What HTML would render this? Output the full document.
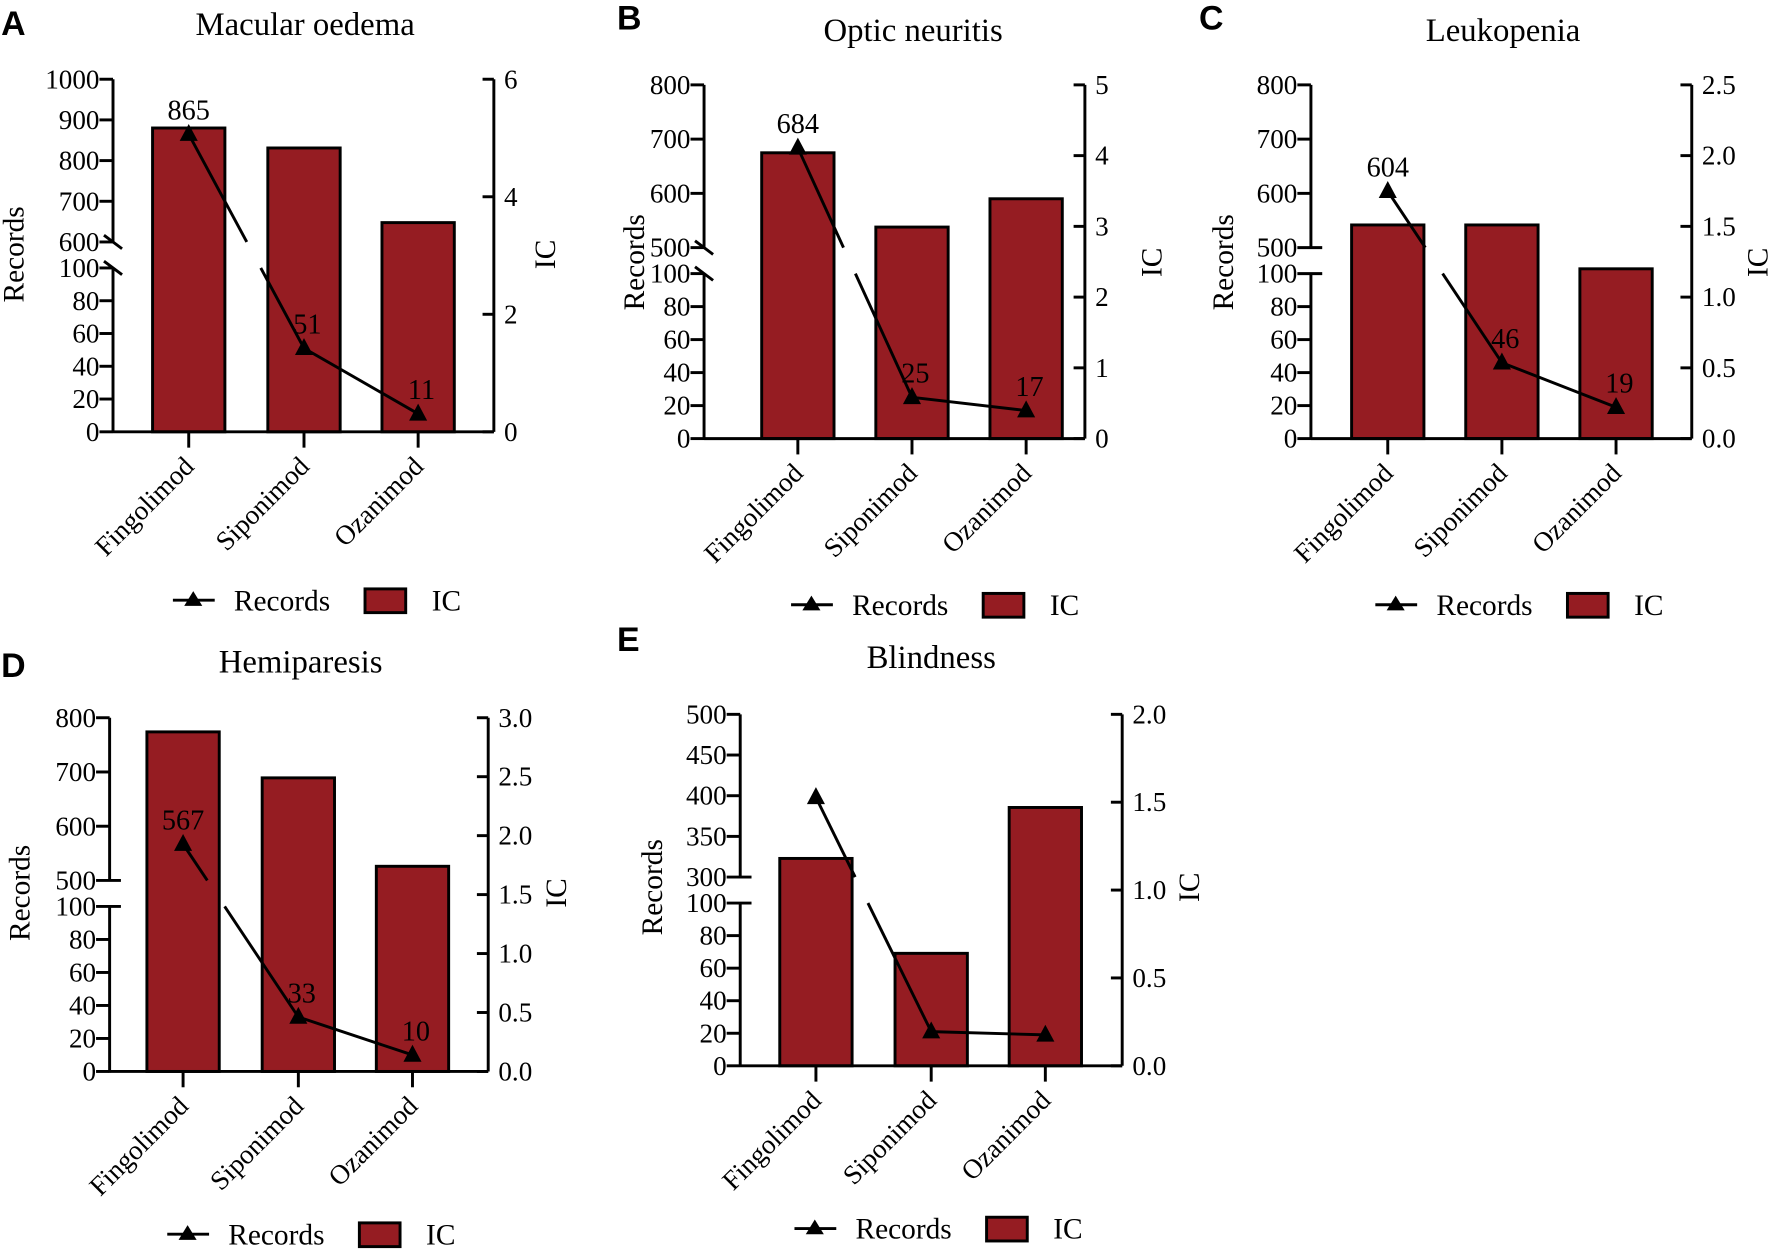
<!DOCTYPE html>
<html><head><meta charset="utf-8"><style>
html,body{margin:0;padding:0;background:#fff;}
svg{display:block;}
text{font-family:"Liberation Serif",serif;fill:#000;}
.lt{font-family:"Liberation Sans",sans-serif;font-weight:bold;}
</style></head><body>
<svg id="fig" width="1772" height="1249" viewBox="0 0 1568 1105" xmlns="http://www.w3.org/2000/svg"></svg>
<script>
const drugs = ["Fingolimod","Siponimod","Ozanimod"];
const titles = ["Macular oedema","Optic neuritis","Leukopenia","Hemiparesis","Blindness"];
const letters = ["A","B","C","D","E"];
const recA = [865,51,11];   const icA = [5.17,4.83,3.56];
const recB = [684,25,17];   const icB = [4.04,2.99,3.39];
const recC = [604,46,19];   const icC = [1.51,1.51,1.20];
const recD = [567,33,10];   const icD = [2.88,2.49,1.74];
const recE = [398,21,19];   const icE = [1.18,0.64,1.47];
const upTicksA = [600,700,800,900,1000];
const upTicksB = [500,600,700,800];
const upTicksC = [500,600,700,800];
const upTicksD = [500,600,700,800];
const upTicksE = [300,350,400,450,500];
const lowTicks = [0,20,40,60,80,100];
const icTicksA = [0,2,4,6];
const icTicksB = [0,1,2,3,4,5];
const icTicksC = [0,0.5,1,1.5,2,2.5];
const icTicksD = [0,0.5,1,1.5,2,2.5,3];
const icTicksE = [0,0.5,1,1.5,2];
const showLabels = [true,true,true,true,false];

const panels = [
 {rec:recA,ic:icA,up:upTicksA,ict:icTicksA,dec:0,xL:100,xR:437,y0:382,lowTop:237,upBot:214,upTop:70,cx:[167,269,370],brk:'diag',
  lt:[1,31],tt:[270,31],ry:[13,225],icy:[483,225],leg:[153,531]},
 {rec:recB,ic:icB,up:upTicksB,ict:icTicksB,dec:0,xL:623,xR:960,y0:388,lowTop:242,upBot:219,upTop:75,cx:[706,807,908],brk:'diag',
  lt:[546,26],tt:[808,36],ry:[562,232],icy:[1020,232],leg:[700,535]},
 {rec:recC,ic:icC,up:upTicksC,ict:icTicksC,dec:1,xL:1160,xR:1497,y0:388,lowTop:242,upBot:219,upTop:75,cx:[1228,1329,1430],brk:'dash',
  lt:[1061,26],tt:[1330,36],ry:[1083,232],icy:[1556,232],leg:[1217,535]},
 {rec:recD,ic:icD,up:upTicksD,ict:icTicksD,dec:1,xL:97,xR:432,y0:948,lowTop:802,upBot:779,upTop:635,cx:[162,264,365],brk:'dash',
  lt:[1,599],tt:[266,595],ry:[18,790],icy:[493,790],leg:[148,1092]},
 {rec:recE,ic:icE,up:upTicksE,ict:icTicksE,dec:1,xL:655,xR:993,y0:943,lowTop:799,upBot:776,upTop:632,cx:[722,824,925],brk:'dash',
  lt:[546,576],tt:[824,591],ry:[578,785],icy:[1053,785],leg:[703,1087]}
];

const NS="http://www.w3.org/2000/svg";
const svg=document.getElementById('fig');
function mk(tag,attrs,parent,txt){const e=document.createElementNS(NS,tag);for(const k in attrs)e.setAttribute(k,attrs[k]);if(txt!==undefined)e.textContent=txt;(parent||svg).appendChild(e);return e;}
const BAR="#951c22";

panels.forEach((p,i)=>{
  const g=mk('g',{});
  
  
  const upLo=p.up[0], upHi=p.up[p.up.length-1];
  const yRec=v=> v>=upLo ? p.upBot-(v-upLo)/(upHi-upLo)*(p.upBot-p.upTop) : p.y0-v/100*(p.y0-p.lowTop);
  const icMax=p.ict[p.ict.length-1];
  const yIC=v=> p.y0-v/icMax*(p.y0-p.upTop);
  const t1=mk('text',{x:p.lt[0],y:p.lt[1],'font-size':30,class:'lt'},g,letters[i]);
   
  const t2=mk('text',{x:p.tt[0],y:p.tt[1],'font-size':29,'text-anchor':'middle'},g,titles[i]);
   
  p.ic.forEach((v,j)=>{
    const y=yIC(v);
    const r=mk('rect',{x:p.cx[j]-32,y:y,width:64,height:p.y0-y,fill:BAR,stroke:'#000','stroke-width':2.6},g);
     
  });
  const la=mk('g',{stroke:'#000','stroke-width':2.6,fill:'none'},g);
   
  mk('line',{x1:p.xL,y1:p.upTop,x2:p.xL,y2:p.upBot},la);
  mk('line',{x1:p.xL,y1:p.lowTop,x2:p.xL,y2:p.y0+1},la);
  if(p.brk==='diag'){
    mk('line',{x1:p.xL-8,y1:p.upBot-6,x2:p.xL+8,y2:p.upBot+6},la);
    mk('line',{x1:p.xL-8,y1:p.lowTop-6,x2:p.xL+8,y2:p.lowTop+6},la);
  } else {
    mk('line',{x1:p.xL-12,y1:p.upBot,x2:p.xL+10,y2:p.upBot},la);
    mk('line',{x1:p.xL-12,y1:p.lowTop,x2:p.xL+10,y2:p.lowTop},la);
  }
  p.up.forEach(v=>{const y=yRec(v);
    if(p.brk==='diag'||v!==upLo) mk('line',{x1:p.xL-12,y1:y,x2:p.xL,y2:y},la);
    const t=mk('text',{x:p.xL-12,y:y+8,'font-size':24,'text-anchor':'end'},g,String(v));
     });
  lowTicks.forEach(v=>{const y=p.y0-v/100*(p.y0-p.lowTop);
    if(!(v===100&&p.brk==='dash')) mk('line',{x1:p.xL-12,y1:y,x2:p.xL,y2:y},la);
    const t=mk('text',{x:p.xL-12,y:y+8,'font-size':24,'text-anchor':'end'},g,String(v));
     });
  mk('line',{x1:p.xL,y1:p.y0,x2:p.xR,y2:p.y0},la);
  p.cx.forEach((x,j)=>{
    mk('line',{x1:x,y1:p.y0,x2:x,y2:p.y0+14},la);
    const t=mk('text',{x:x+6,y:p.y0+32,'font-size':24,'text-anchor':'end',transform:`rotate(-45 ${x+6} ${p.y0+32})`},g,drugs[j]);
     
  });
  const ra=mk('g',{stroke:'#000','stroke-width':2.6},g);
   
  mk('line',{x1:p.xR,y1:p.upTop,x2:p.xR,y2:p.y0},ra);
  p.ict.forEach(v=>{const y=yIC(v);
    mk('line',{x1:p.xR-10,y1:y,x2:p.xR,y2:y},ra);
    const t=mk('text',{x:p.xR+9,y:y+8,'font-size':24},g,v.toFixed(p.dec));
     });
  const at=mk('text',{x:p.ry[0],y:p.ry[1],'font-size':26,'text-anchor':'middle',transform:`rotate(-90 ${p.ry[0]} ${p.ry[1]})`,'dominant-baseline':'central'},g,'Records');
   
  const it=mk('text',{x:p.icy[0],y:p.icy[1],'font-size':26,'text-anchor':'middle',transform:`rotate(-90 ${p.icy[0]} ${p.icy[1]})`,'dominant-baseline':'central'},g,'IC');
   
  const pts=p.rec.map((v,j)=>[p.cx[j],yRec(v)]);
  const lg=mk('g',{stroke:'#000','stroke-width':2.6,fill:'none'},g);
   
  for(let j=0;j<pts.length-1;j++){
    const [x1,y1]=pts[j],[x2,y2]=pts[j+1];
    const a=p.rec[j]>=upLo, b=p.rec[j+1]>=upLo;
    if(a!==b){
      const xa=x1+(x2-x1)*(p.upBot-y1)/(y2-y1), xb=x1+(x2-x1)*(p.lowTop-y1)/(y2-y1);
      mk('line',{x1:x1,y1:y1,x2:xa,y2:p.upBot},lg);
      mk('line',{x1:xb,y1:p.lowTop,x2:x2,y2:y2},lg);
    } else mk('line',{x1:x1,y1:y1,x2:x2,y2:y2},lg);
  }
  pts.forEach(([x,y],j)=>{
    const m=mk('path',{d:`M${x} ${y-9} L${x+8} ${y+6} L${x-8} ${y+6} Z`,fill:'#000'},g);
     
    if(showLabels[i]){
      const t=mk('text',{x:x+(j===0?0:3),y:y-13,'font-size':25,'text-anchor':'middle'},g,String(p.rec[j]));
       
    }
  });
  const [lx,ly]=p.leg;
  const le1=mk('g',{},g);
   
  mk('line',{x1:lx,y1:ly,x2:lx+37,y2:ly,stroke:'#000','stroke-width':2.6},le1);
  mk('path',{d:`M${lx+18} ${ly-8} L${lx+26} ${ly+5} L${lx+10} ${ly+5} Z`,fill:'#000'},le1);
  mk('text',{x:lx+54,y:ly+9,'font-size':26},le1,'Records');
  const le2=mk('g',{},g);
   
  mk('rect',{x:lx+170,y:ly-10,width:36,height:21,fill:BAR,stroke:'#000','stroke-width':2.6},le2);
  mk('text',{x:lx+229,y:ly+9,'font-size':26},le2,'IC');
});
</script>
</body></html>
